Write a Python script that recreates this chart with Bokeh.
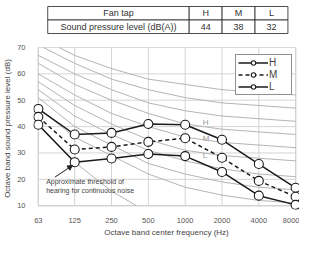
import math
from bokeh.plotting import figure
from bokeh.models import (Range1d, FixedTicker, BoxAnnotation, Legend, LegendItem,
                          Arrow, NormalHead)
from bokeh.layouts import column
from bokeh.embed import file_html
from bokeh.resources import INLINE
from bokeh.core.properties import value

FONT = "Liberation Sans"

# ---------------- data ----------------
table_header = ["Fan tap", "H", "M", "L"]
table_values = ["Sound pressure level (dB(A))", "44", "38", "32"]

freqs = [63, 125, 250, 500, 1000, 2000, 4000, 8000]
freq_labels = ["63", "125", "250", "500", "1000", "2000", "4000", "8000"]
level_ticks = [10, 20, 30, 40, 50, 60, 70]

spl_H = [46.7, 37.0, 37.6, 41.0, 40.7, 35.0, 25.8, 16.8]
spl_M = [43.7, 31.3, 32.3, 34.2, 35.6, 28.2, 19.4, 13.4]
spl_L = [40.7, 26.5, 27.9, 29.6, 28.8, 22.8, 13.8, 10.3]

nc_15 = [47, 36, 29, 22, 17, 14, 12, 11]
nc_20 = [51, 40, 33, 26, 22, 19, 17, 16]
nc_25 = [54, 44, 37, 31, 27, 24, 22, 21]
nc_30 = [57, 48, 41, 35, 31, 29, 28, 27]
nc_35 = [60, 52, 45, 40, 36, 34, 33, 32]
nc_40 = [64, 56, 50, 45, 41, 39, 38, 37]
nc_45 = [67, 60, 54, 49, 46, 44, 43, 42]
nc_50 = [71, 64, 58, 54, 51, 49, 48, 47]
nc_55 = [74, 67, 62, 58, 56, 54, 53, 52]
nc_curves = [nc_15, nc_20, nc_25, nc_30, nc_35, nc_40, nc_45, nc_50, nc_55]

threshold_freqs = [63, 125, 250, 400]
threshold_spl = [41, 26.5, 15.5, 10]

series_labels = ["H", "M", "L"]
threshold_text = ["Approximate threshold of", "hearing for continuous noise"]

# ---------------- layout ----------------
W = 299
TABLE_H = 36
MAIN_H = 203
BORDER_TOP = 11
AXIS_BOTTOM = 22
PLOT_LEFT = 23
X_PAD_L, X_PAD_R = 5, 4
Y_PAD = 4

frame_w = W - PLOT_LEFT
frame_h = MAIN_H - BORDER_TOP - AXIS_BOTTOM
octs = math.log2(freqs[-1] / freqs[0])
px_oct = (frame_w - X_PAD_L - X_PAD_R) / octs
x_start = freqs[0] / 2 ** (X_PAD_L / px_oct)
x_end = freqs[-1] * 2 ** (X_PAD_R / px_oct)
y_lo, y_hi = level_ticks[0], level_ticks[-1]
y_start = y_lo - Y_PAD * (y_hi - y_lo) / (frame_h - Y_PAD)

# ---------------- table figure ----------------
t = figure(width=W, height=TABLE_H, x_range=Range1d(0, W), y_range=Range1d(TABLE_H, 0),
           output_backend="svg", toolbar_location=None, min_border=0,
           x_axis_location=None, y_axis_location=None)
t.outline_line_color = None
t.grid.visible = False
col_edges = [16, 175, 212, 249, 286]
row_edges = [6, 19.5, 33]
rows = [table_header, table_values]
lefts, rights, tops, bottoms, tx, ty, tt = [], [], [], [], [], [], []
for j, row in enumerate(rows):
    for i, cell in enumerate(row):
        lefts.append(col_edges[i]); rights.append(col_edges[i + 1])
        tops.append(row_edges[j]); bottoms.append(row_edges[j + 1])
        tx.append((col_edges[i] + col_edges[i + 1]) / 2)
        ty.append((row_edges[j] + row_edges[j + 1]) / 2)
        tt.append(cell)
t.quad(left=lefts, right=rights, top=tops, bottom=bottoms, fill_color="white",
       line_color="#222222", line_width=0.8)
t.text(x=tx, y=ty, text=tt, text_align="center", text_baseline="middle",
       text_font=value(FONT), text_font_size="9px", text_font_style="normal",
       text_color="#333333")

# ---------------- main figure ----------------
p = figure(width=W, height=MAIN_H, x_axis_type="log",
           x_range=Range1d(x_start, x_end), y_range=Range1d(y_start, y_hi),
           output_backend="svg", toolbar_location=None,
           min_border_left=PLOT_LEFT, min_border_right=0,
           min_border_top=BORDER_TOP, min_border_bottom=AXIS_BOTTOM)
p.outline_line_color = None
p.grid.visible = False

# grid
p.segment(x0=freqs, y0=[y_lo] * len(freqs), x1=freqs, y1=[y_hi] * len(freqs),
          line_color="#d4d4d4", line_width=1)
p.segment(x0=[freqs[0]] * len(level_ticks), y0=level_ticks,
          x1=[freqs[-1]] * len(level_ticks), y1=level_ticks,
          line_color="#d4d4d4", line_width=1)

# NC curves and threshold
p.multi_line(xs=[freqs] * len(nc_curves), ys=nc_curves, line_color="#ababab", line_width=0.9)
p.line(threshold_freqs, threshold_spl, line_color="#ababab", line_width=0.9)

border = BoxAnnotation(left=freqs[0], right=freqs[-1], bottom=y_lo, top=y_hi,
                       fill_alpha=0, line_color="#444444", line_width=1.2, level="underlay")
p.add_layout(border)

items = []
for lab, vals, dash in zip(series_labels, [spl_H, spl_M, spl_L], ["solid", "4 3", "solid"]):
    ln = p.line(freqs, vals, line_color="#1a1a1a", line_width=1.5, line_dash=dash)
    sc = p.scatter(freqs, vals, size=9, marker="circle", fill_color="white",
                   line_color="#1a1a1a", line_width=1.1)
    items.append(LegendItem(label=lab, renderers=[ln, sc]))

legend = Legend(items=items, location="top_right", margin=7,
                border_line_color="#222222", border_line_width=1,
                label_text_font=FONT, label_text_font_size="10px",
                glyph_width=30, glyph_height=11, label_height=11,
                label_standoff=1, spacing=1, padding=2)
p.add_layout(legend)

# curve labels
p.text(x=[1390] * 3, y=[41.5, 35.3, 29.2], text=series_labels, text_font=value(FONT),
       text_font_size="8px", text_color="#999999", text_baseline="middle")

# threshold annotation
p.text(x=[73, 73], y=[19.0, 15.6], text=threshold_text, text_font=value(FONT),
       text_font_size="7px", text_color="#444444", text_baseline="middle")
p.add_layout(Arrow(end=NormalHead(size=5, fill_color="#222222", line_color="#222222"),
                   x_start=86, y_start=20.8, x_end=120, y_end=25.3,
                   line_color="#222222", line_width=1))

# axes
p.xaxis.ticker = FixedTicker(ticks=freqs)
p.xaxis.major_label_overrides = dict(zip(freqs, freq_labels))
p.yaxis.ticker = FixedTicker(ticks=level_ticks)
p.xaxis.axis_label = "Octave band center frequency (Hz)"
p.yaxis.axis_label = "Octave band sound pressure level (dB)"
for ax in (p.xaxis, p.yaxis):
    ax.axis_line_color = None
    ax.major_tick_line_color = None
    ax.minor_tick_line_color = None
    ax.major_label_text_font = FONT
    ax.major_label_text_font_size = "7.5px"
    ax.major_label_text_color = "#555555"
    ax.major_label_standoff = 2
    ax.axis_label_text_font = FONT
    ax.axis_label_text_font_size = "8px"
    ax.axis_label_text_font_style = "normal"
    ax.axis_label_text_color = "#444444"
    ax.axis_label_standoff = 2

layout = column(t, p)
open("out.html", "w").write(file_html(layout, INLINE))
